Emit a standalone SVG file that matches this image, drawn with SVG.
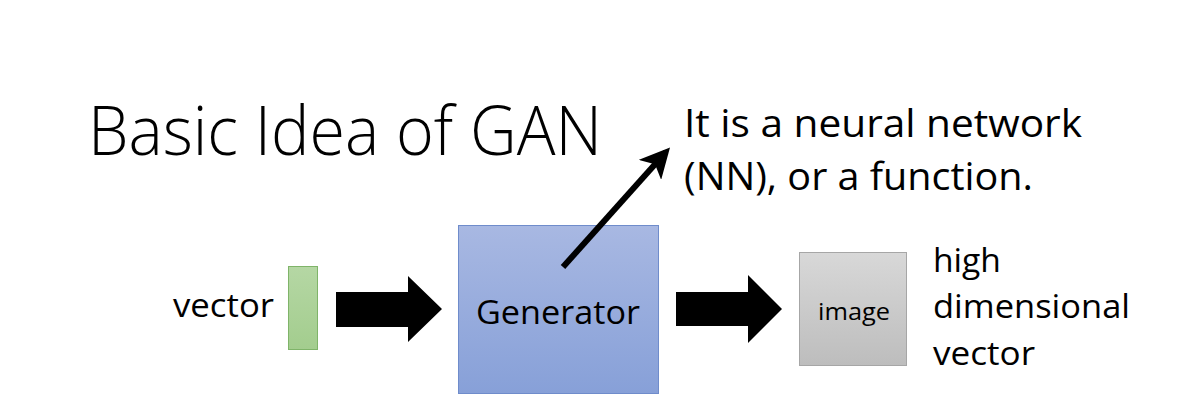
<svg xmlns="http://www.w3.org/2000/svg" width="1183" height="406" viewBox="0 0 1183 406">
<defs>
<linearGradient id="gBlue" x1="0" y1="0" x2="0" y2="1">
<stop offset="0" stop-color="#a8b8e2"/>
<stop offset="1" stop-color="#87a0d8"/>
</linearGradient>
<linearGradient id="gGray" x1="0" y1="0" x2="0" y2="1">
<stop offset="0" stop-color="#d8d8d8"/>
<stop offset="1" stop-color="#bdbdbd"/>
</linearGradient>
<linearGradient id="gGreen" x1="0" y1="0" x2="0" y2="1">
<stop offset="0" stop-color="#b5d7a4"/>
<stop offset="1" stop-color="#a3cd8e"/>
</linearGradient>
<marker id="head" viewBox="0 0 10 10" refX="8" refY="5" markerWidth="5" markerHeight="5" orient="auto" markerUnits="strokeWidth">
<path d="M0,0 L10,5 L0,10 L2.5,5 Z" fill="#000"/>
</marker>
<style>
text{font-family:"Open Sans","Liberation Sans",sans-serif;fill:#000}
</style>
</defs>
<rect width="1183" height="406" fill="#fff"/>
<text x="88" y="155" font-size="68" font-weight="300" textLength="514" lengthAdjust="spacingAndGlyphs">Basic Idea of GAN</text>
<g id="note">
<text x="684" y="137" font-size="38" textLength="398" lengthAdjust="spacingAndGlyphs">It is a neural network</text>
<text x="684" y="190" font-size="38" textLength="349" lengthAdjust="spacingAndGlyphs">(NN), or a function.</text>
</g>
<g id="vector">
<text x="173" y="317" font-size="32" textLength="101" lengthAdjust="spacingAndGlyphs">vector</text>
<rect x="288.5" y="266.5" width="29" height="83" fill="url(#gGreen)" stroke="#7fb469" stroke-width="1"/>
</g>
<g id="generator">
<rect x="458.5" y="225.5" width="200" height="168" fill="url(#gBlue)" stroke="#6f8ccb" stroke-width="1"/>
<text x="476" y="324" font-size="33" textLength="164" lengthAdjust="spacingAndGlyphs">Generator</text>
</g>
<g id="image">
<rect x="799.5" y="252.5" width="107" height="113" fill="url(#gGray)" stroke="#a6a6a6" stroke-width="1"/>
<text x="818" y="320" font-size="24" textLength="72" lengthAdjust="spacingAndGlyphs">image</text>
</g>
<g id="hdv">
<text x="933" y="272" font-size="33" textLength="68" lengthAdjust="spacingAndGlyphs">high</text>
<text x="933" y="318" font-size="33" textLength="197" lengthAdjust="spacingAndGlyphs">dimensional</text>
<text x="933" y="365" font-size="33" textLength="102" lengthAdjust="spacingAndGlyphs">vector</text>
</g>
<g id="connectors">
<polygon points="336,292 408,292 408,276 442,309 408,342 408,327 336,327" fill="#000"/>
<polygon points="676,292 748,292 748,275 782,309 748,343 748,326 676,326" fill="#000"/>
<line x1="563" y1="267" x2="666" y2="152" stroke="#000" stroke-width="6" marker-end="url(#head)"/>
</g>
</svg>
